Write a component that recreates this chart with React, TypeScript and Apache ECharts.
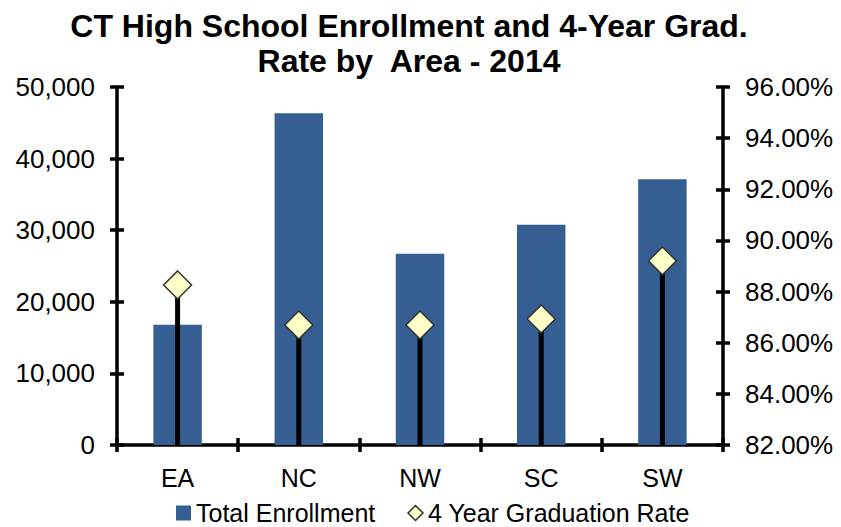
import React, { useEffect, useRef } from "react";
import * as echarts from "echarts";

const areas = ["EA", "NC", "NW", "SC", "SW"];
const enrollment = [16800, 46350, 26700, 30750, 37100];
const gradRate = [88.26, 86.69, 86.69, 86.93, 89.2];

const FONT = "'Liberation Sans', Arial, sans-serif";

export default function App() {
  const ref = useRef<HTMLDivElement>(null);
  useEffect(() => {
    if (!ref.current) return;
    const chart = echarts.init(ref.current, undefined, { renderer: "svg" });
    const axisLine = { show: true, lineStyle: { color: "#000", width: 3.5 } };
    const tickStyle = { color: "#000", width: 3.5 };
    chart.setOption({
      animation: false,
      backgroundColor: "#fff",
      title: {
        text: "CT High School Enrollment and 4-Year Grad.\nRate by  Area - 2014",
        left: 404,
        textAlign: "center",
        top: 3,
        textStyle: { fontFamily: FONT, fontSize: 32, fontWeight: "bold", color: "#000", lineHeight: 35 },
      },
      legend: {
        left: 176,
        top: 500,
        padding: 0,
        itemGap: 32,
        itemWidth: 15,
        itemHeight: 15,
        textStyle: { fontFamily: FONT, fontSize: 25, color: "#000", lineHeight: 26 },
        data: [
          { name: "Total Enrollment", icon: "rect" },
          { name: "4 Year Graduation Rate", icon: "diamond", itemStyle: { color: "#FFFFC8", borderColor: "#333", borderWidth: 1.5 } },
        ],
      },
      grid: { left: 117, right: 118, top: 87, bottom: 82, containLabel: false },
      xAxis: [
        {
          type: "category",
          data: areas,
          axisLine,
          axisTick: { show: true, inside: false, length: 7, lineStyle: tickStyle },
          axisLabel: { fontFamily: FONT, fontSize: 25, color: "#000", margin: 20 },
        },
        {
          type: "category",
          data: areas,
          position: "bottom",
          axisLine: { show: false },
          axisTick: { show: true, inside: true, length: 7, lineStyle: tickStyle },
          axisLabel: { show: false },
        },
      ],
      yAxis: [
        {
          type: "value",
          min: 0,
          max: 50000,
          interval: 10000,
          position: "left",
          splitLine: { show: false },
          axisLine,
          axisTick: { show: true, inside: false, length: 7, lineStyle: tickStyle },
          axisLabel: {
            fontFamily: FONT,
            fontSize: 26,
            color: "#000",
            margin: 22,
            formatter: (v: number) => v.toLocaleString("en-US"),
          },
        },
        {
          type: "value",
          min: 82,
          max: 96,
          interval: 2,
          position: "right",
          splitLine: { show: false },
          axisLine,
          axisTick: { show: true, inside: false, length: 7, lineStyle: tickStyle },
          axisLabel: {
            fontFamily: FONT,
            fontSize: 26,
            color: "#000",
            margin: 22,
            formatter: (v: number) => v.toFixed(2) + "%",
          },
        },
        {
          type: "value",
          min: 0,
          max: 50000,
          interval: 10000,
          position: "left",
          splitLine: { show: false },
          axisLine: { show: false },
          axisTick: { show: true, inside: true, length: 7, lineStyle: tickStyle },
          axisLabel: { show: false },
        },
        {
          type: "value",
          min: 82,
          max: 96,
          interval: 2,
          position: "right",
          splitLine: { show: false },
          axisLine: { show: false },
          axisTick: { show: true, inside: true, length: 7, lineStyle: tickStyle },
          axisLabel: { show: false },
        },
      ],
      series: [
        {
          name: "Total Enrollment",
          type: "bar",
          data: enrollment,
          barWidth: "40%",
          itemStyle: { color: "#355F93" },
          z: 1,
        },
        {
          name: "dropLines",
          type: "custom",
          yAxisIndex: 1,
          data: gradRate,
          z: 3,
          renderItem: (params: any, api: any) => {
            const idx = params.dataIndex;
            const top = api.coord([idx, api.value(1)]);
            const bottom = api.coord([idx, 82]);
            return {
              type: "line",
              shape: { x1: top[0], y1: top[1], x2: bottom[0], y2: bottom[1] },
              style: { stroke: "#000", lineWidth: 5 },
            };
          },
          encode: { x: 0, y: 1 },
        },
        {
          name: "4 Year Graduation Rate",
          type: "line",
          yAxisIndex: 1,
          data: gradRate,
          symbol: "diamond",
          symbolSize: 28,
          lineStyle: { width: 0, opacity: 0 },
          itemStyle: { color: "#FFFFC8", borderColor: "#333", borderWidth: 1.5 },
          z: 5,
        },
      ],
    });
    return () => chart.dispose();
  }, []);
  return <div ref={ref} style={{ width: 841, height: 527, position: "absolute", left: 0, top: 0 }} />;
}
